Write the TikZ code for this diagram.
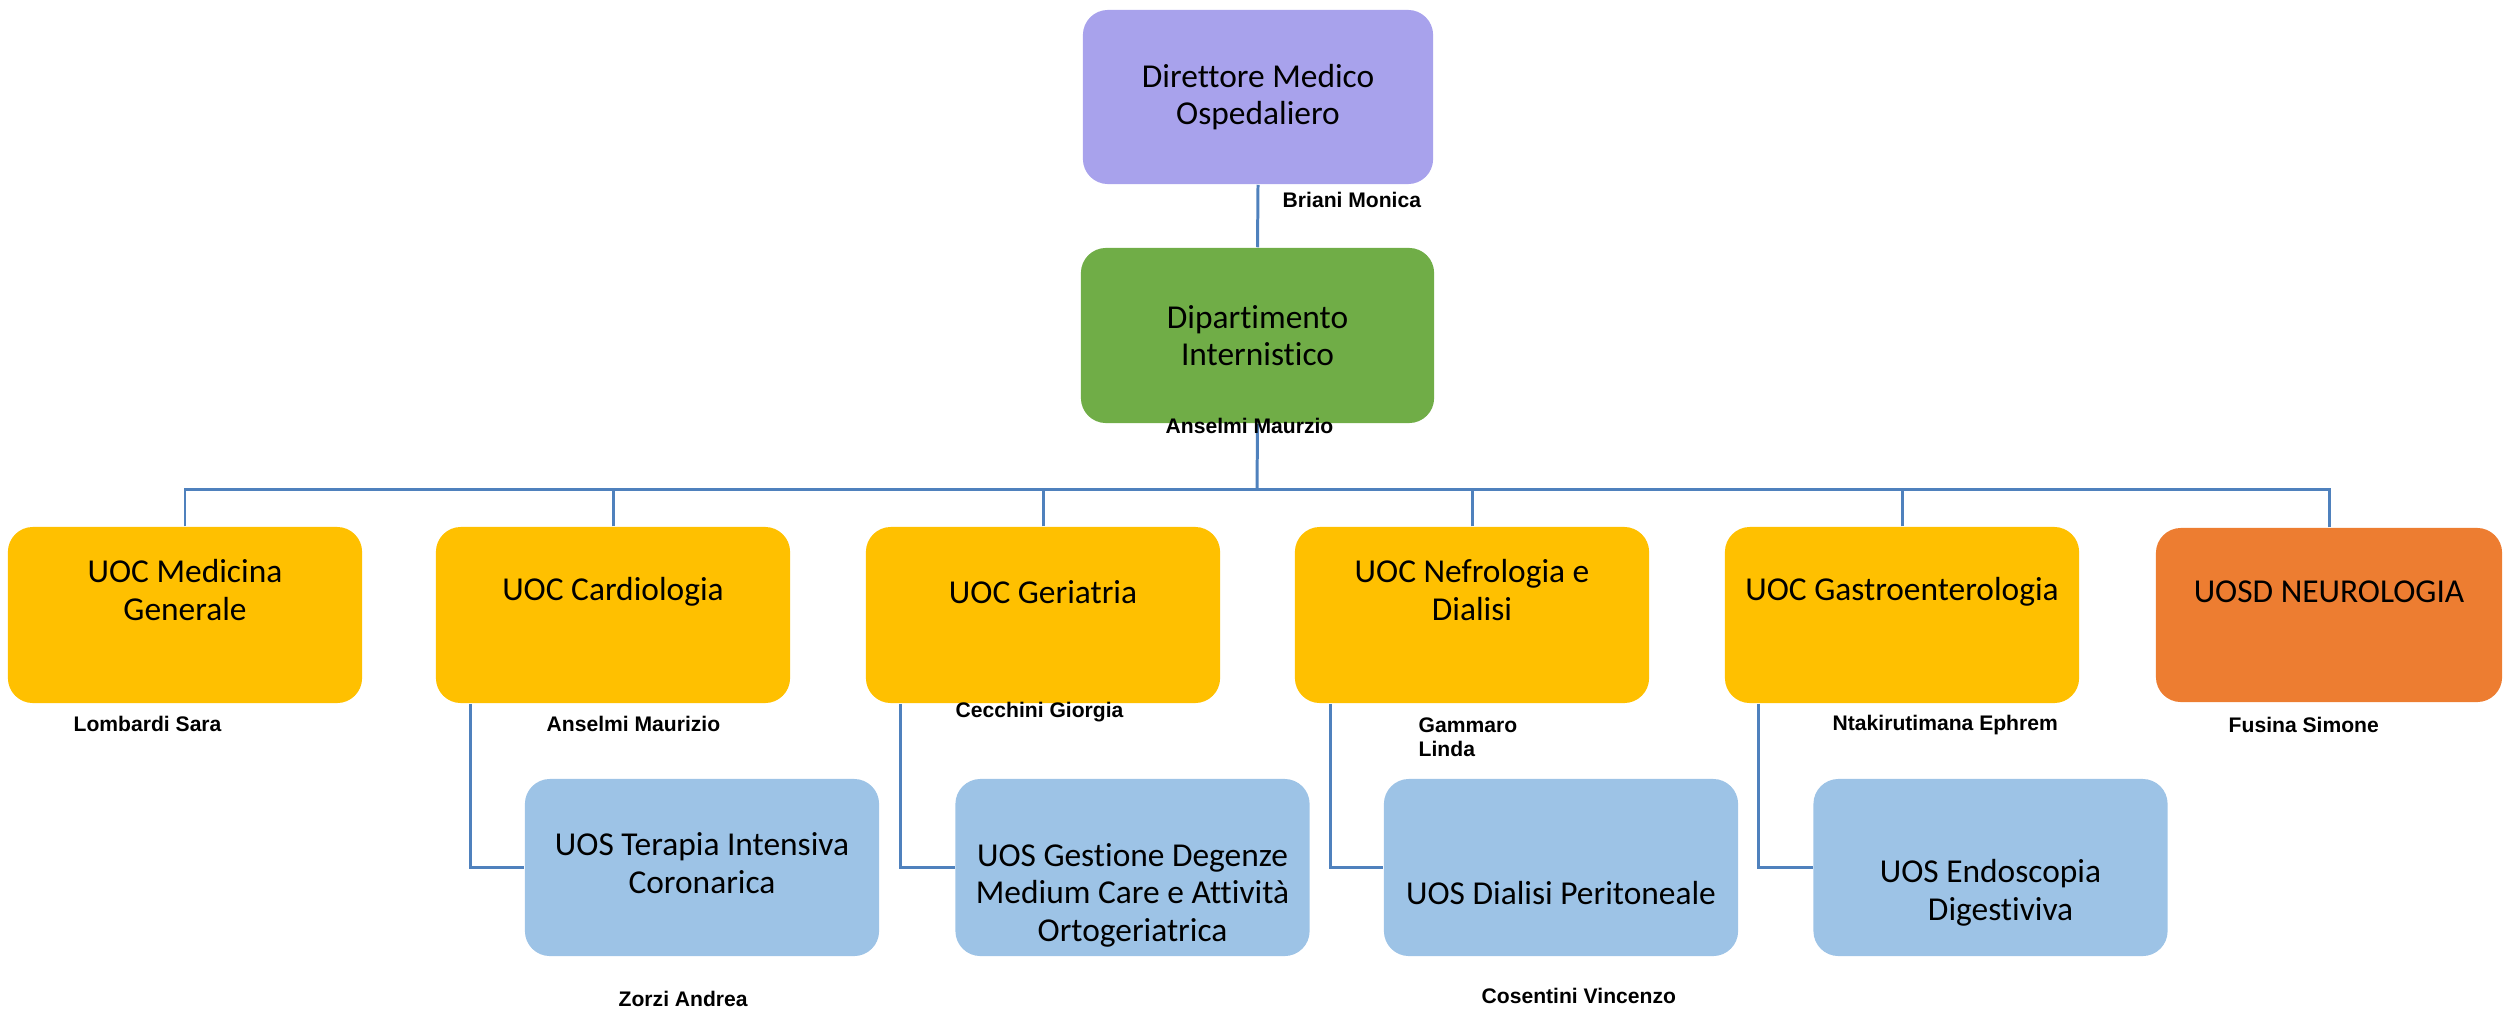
\documentclass[tikz,border=0pt]{standalone}
\usepackage{fontspec}
\setmainfont{Carlito}[Ligatures={NoCommon}]
\newfontfamily\namefont{Liberation Sans}
\usetikzlibrary{calc}
\definecolor{lavender}{HTML}{A8A2EC}
\definecolor{leafgreen}{HTML}{70AD47}
\definecolor{gold}{HTML}{FFC000}
\definecolor{tangerine}{HTML}{ED7D31}
\definecolor{skyblue}{HTML}{9DC3E6}
\definecolor{linkblue}{HTML}{4F81BD}
\begin{document}
\begin{tikzpicture}[x=0.01cm,y=-0.01cm,
  box/.style={rounded corners=0.25cm, minimum width=3.54cm, minimum height=1.76cm, inner sep=0pt},
  boxtext/.style={font=\fontsize{9.5}{10.7}\selectfont, align=center, inner sep=0pt},
  who/.style={font=\namefont\bfseries\fontsize{6}{6.8}\selectfont, anchor=west, inner sep=0pt, align=left},
  link/.style={draw=linkblue, line width=0.85pt}]
\useasboundingbox (0,0) rectangle (2504,1009);

% top management
\node[box, fill=lavender, minimum width=3.5cm, minimum height=1.74cm, boxtext] (dmo) at (1258,97) {Direttore Medico\\Ospedaliero};
\node[box, fill=leafgreen, minimum width=3.53cm, minimum height=1.75cm, boxtext] (dip) at (1257.5,335.5) {Dipartimento\\Internistico};

% complex operating units
\node[box, fill=gold] (u1) at (185,615) {};
\node[box, fill=gold] (u2) at (613,615) {};
\node[box, fill=gold] (u3) at (1043,615) {};
\node[box, fill=gold] (u4) at (1472,615) {};
\node[box, fill=gold] (u5) at (1902,615) {};
\node[box, fill=tangerine, minimum width=3.46cm, minimum height=1.74cm] (u6) at (2329,615) {};

% simple operating units
\node[box, fill=skyblue, minimum height=1.77cm] (s1) at (702,867.5) {};
\node[box, fill=skyblue, minimum height=1.77cm] (s2) at (1132.5,867.5) {};
\node[box, fill=skyblue, minimum height=1.77cm] (s3) at (1561,867.5) {};
\node[box, fill=skyblue, minimum height=1.77cm] (s4) at (1990.5,867.5) {};

% unit titles
\node[boxtext] (t1) at (185,590) {UOC Medicina\\Generale};
\node[boxtext] (t2) at (613,592) {UOC Cardiologia};
\node[boxtext] (t3) at (1043,592) {UOC Geriatria};
\node[boxtext] (t4) at (1472,590) {UOC Nefrologia e\\Dialisi};
\node[boxtext] (t5) at (1902,592) {UOC Gastroenterologia};
\node[boxtext] (t6) at (2329,592) {UOSD NEUROLOGIA};
\node[boxtext] (r1) at (702,863) {UOS Terapia Intensiva\\Coronarica};
\node[boxtext] (r2) at (1132.5,895) {UOS Gestione Degenze\\Medium Care e Attivit\`a\\Ortogeriatrica};
\node[boxtext] (r3) at (1561,893) {UOS Dialisi Peritoneale};
\node[boxtext] (r4) at (1990.5,893) {UOS Endoscopia\\\hspace*{0.6em}Digestiviva};

% connectors
\coordinate (hub) at (1257,489);
\draw[link] (dmo.south) -- (dip.north);
\draw[link] (dip.south) -- (hub);
\foreach \u in {u1,u2,u3,u4,u5,u6}
  \draw[link] (\u.north) |- (hub);
\draw[link] ($(u2.south west)+(35,0)$) |- (s1.west);
\draw[link] ($(u3.south west)+(35,0)$) |- (s2.west);
\draw[link] ($(u4.south west)+(36,0)$) |- (s3.west);
\draw[link] ($(u5.south west)+(34,0)$) |- (s4.west);

% heads of unit
\node[who] (n0) at (1282,200) {Briani Monica};
\node[who] (n1) at (1165,426) {Anselmi Maurzio};
\node[who] (n2) at (73,724) {Lombardi Sara};
\node[who] (n3) at (546,724) {Anselmi Maurizio};
\node[who] (n4) at (955,712) {Cecchini Giorgia};
\node[who] (n5) at (1418,737) {Gammaro\\Linda};
\node[who] (n6) at (1832,725) {Ntakirutimana Ephrem};
\node[who] (n7) at (2228,725) {Fusina Simone};
\node[who] (n8) at (618,999) {Zorzi Andrea};
\node[who] (n9) at (1481,996) {Cosentini Vincenzo};
\end{tikzpicture}
\end{document}
